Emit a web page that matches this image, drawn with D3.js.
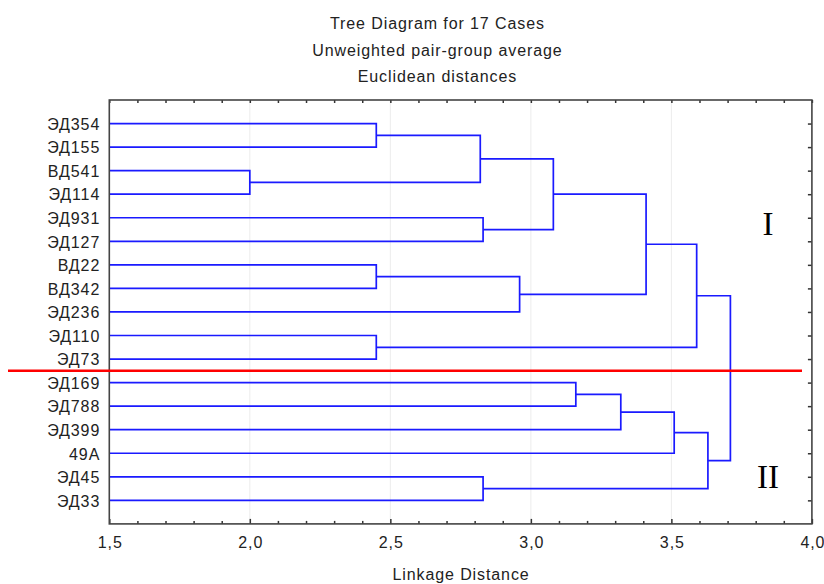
<!DOCTYPE html>
<html>
<head>
<meta charset="utf-8">
<script src="https://cdn.jsdelivr.net/npm/d3@7"></script>
<style>
html,body{margin:0;padding:0;background:#fff;}
svg{display:block;}
text{font-family:Arial,"Liberation Sans",sans-serif;fill:#222;}
</style>
</head>
<body>
<svg id="chart" width="824" height="584"></svg>
<script>
const titleLines = ["Tree Diagram for 17 Cases", "Unweighted pair-group average", "Euclidean distances"];
const leaves = ["ЭД354","ЭД155","ВД541","ЭД114","ЭД931","ЭД127","ВД22","ВД342","ЭД236","ЭД110","ЭД73","ЭД169","ЭД788","ЭД399","49A","ЭД45","ЭД33"];
// merges: [childA, childB, linkage distance]; indices 0..16 are leaves, 17+ are clusters in order
const mergeA = [2, 0, 6, 9, 18, 4, 15, 19, 21, 11, 26, 25, 27, 28, 29, 30];
const mergeB = [3, 1, 7, 10, 17, 5, 16, 8, 22, 12, 13, 24, 14, 20, 23, 31];
const mergeH = [2.00, 2.45, 2.45, 2.45, 2.82, 2.83, 2.83, 2.96, 3.08, 3.16, 3.32, 3.41, 3.51, 3.59, 3.63, 3.71];
const xTicks = [1.5, 2.0, 2.5, 3.0, 3.5, 4.0];
const groupLabels = ["I", "II"];
const xAxisTitle = "Linkage Distance";

const svg = d3.select("#chart");
const L = 109.3, R = 811.9, T = 100, B = 523.9;
const FS = 16, LS = 0.9;

const x = d3.scaleLinear().domain([1.5, 4.0]).range([L, R]);
const y = d3.scalePoint().domain(leaves).range([T, B]).padding(1);

// grid
svg.append("g").selectAll("line").data(xTicks.slice(1, -1)).join("line")
  .attr("x1", d => x(d)).attr("x2", d => x(d)).attr("y1", T).attr("y2", B)
  .attr("stroke", "#ececec").attr("stroke-width", 1);

// axes
const fmt = d => d3.format(".1f")(d).replace(".", ",");
const bottom = svg.append("g").attr("transform", `translate(0,${B})`)
  .call(d3.axisBottom(x).tickValues(xTicks).tickFormat(fmt).tickSizeInner(-5).tickSizeOuter(0).tickPadding(13));
bottom.selectAll("text").attr("font-size", FS).attr("font-family", "Arial").attr("fill", "#222")
  .style("letter-spacing", LS + "px").attr("dx", (LS / 2) + "px");
bottom.selectAll(".tick line").attr("stroke", "#333").attr("stroke-width", 1.5);
bottom.select(".domain").remove();

const minorTicks = d3.range(1.6, 4.0, 0.1).filter(v => Math.abs(v * 2 - Math.round(v * 2)) > 0.01);
const minB = svg.append("g").attr("transform", `translate(0,${B})`)
  .call(d3.axisBottom(x).tickValues(minorTicks).tickFormat("").tickSizeInner(-3).tickSizeOuter(0));
minB.select(".domain").remove();
minB.selectAll("line").attr("stroke", "#333").attr("stroke-width", 1.5);

const topAx = svg.append("g").attr("transform", `translate(0,${T})`)
  .call(d3.axisTop(x).tickValues(xTicks.concat(minorTicks)).tickFormat("").tickSizeInner(-3).tickSizeOuter(0));
topAx.select(".domain").remove();
topAx.selectAll("line").attr("stroke", "#333").attr("stroke-width", 1.5);

const rightAx = svg.append("g").attr("transform", `translate(${R},0)`)
  .call(d3.axisRight(y).tickFormat("").tickSizeInner(-4).tickSizeOuter(0));
rightAx.select(".domain").remove();
rightAx.selectAll("line").attr("stroke", "#333").attr("stroke-width", 1.5);

const leftAx = svg.append("g").attr("transform", `translate(${L},0)`)
  .call(d3.axisLeft(y).tickSizeInner(0).tickSizeOuter(0).tickPadding(10));
leftAx.select(".domain").remove();
leftAx.selectAll("text").attr("font-size", FS).attr("font-family", "Arial").attr("fill", "#222")
  .attr("dy", "0.36em").style("letter-spacing", LS + "px").attr("dx", LS + "px");

// dendrogram
const nodes = leaves.map(name => ({ x: 1.5, y: y(name) }));
const links = [];
mergeH.forEach((h, i) => {
  const a = nodes[mergeA[i]], b = nodes[mergeB[i]];
  links.push({ a, b, h });
  nodes.push({ x: h, y: (a.y + b.y) / 2 });
});
svg.append("g").selectAll("path").data(links).join("path")
  .attr("d", d => `M${x(d.a.x)},${d.a.y}H${x(d.h)}V${d.b.y}H${x(d.b.x)}`)
  .attr("fill", "none").attr("stroke", "#1a1aff").attr("stroke-width", 1.7);

// frame
svg.append("rect").attr("x", L).attr("y", T).attr("width", R - L).attr("height", B - T)
  .attr("fill", "none").attr("stroke", "#444").attr("stroke-width", 1.6);

// titles
svg.append("g").selectAll("text").data(titleLines).join("text")
  .attr("x", 437 + LS / 2).attr("y", (d, i) => 29 + i * 26.5)
  .attr("text-anchor", "middle").attr("font-size", FS).style("letter-spacing", LS + "px").text(d => d);

svg.append("text").attr("x", (L + R) / 2 + LS / 2).attr("y", 580)
  .attr("text-anchor", "middle").attr("font-size", FS).style("letter-spacing", LS + "px").text(xAxisTitle);

// cut line
const cutY = (y(leaves[10]) + y(leaves[11])) / 2;
svg.append("line").attr("x1", 8).attr("x2", 802).attr("y1", cutY).attr("y2", cutY)
  .attr("stroke", "#ff0000").attr("stroke-width", 2.5);

// group labels
svg.append("g").selectAll("text").data(groupLabels).join("text")
  .attr("x", 768).attr("y", (d, i) => i === 0 ? 235 : 488)
  .attr("text-anchor", "middle")
  .style("font-family", "'Liberation Serif','Times New Roman',serif").style("fill", "#000")
  .attr("font-size", 33).text(d => d);
</script>
</body>
</html>
